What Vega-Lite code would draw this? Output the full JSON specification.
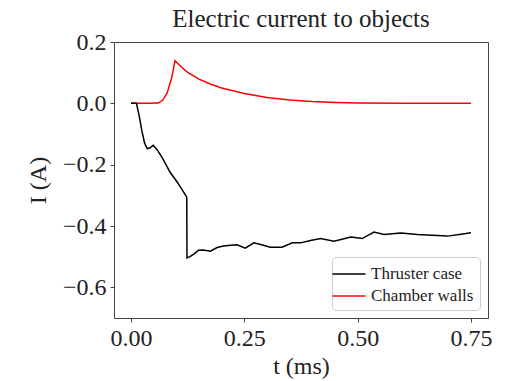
{
  "$schema": "https://vega.github.io/schema/vega-lite/v6.json",
  "autosize": {"type": "none"},
  "padding": {"left": 114, "top": 42, "right": 19, "bottom": 63},
  "width": 374,
  "height": 276,
  "background": "white",
  "title": {"text": "Electric current to objects", "font": "Liberation Serif, serif", "fontSize": 25, "fontWeight": "normal", "color": "#222", "offset": -2},
  "config": {
    "view": {"stroke": "#444", "strokeWidth": 1},
    "axis": {"labelFont": "Liberation Serif, serif", "titleFont": "Liberation Serif, serif", "labelFontSize": 24, "titleFontSize": 24, "titleFontWeight": "normal", "labelColor": "#222", "titleColor": "#222", "domain": false, "tickColor": "#444", "tickSize": 4, "grid": false, "labelPadding": 4},
    "legend": {"labelFont": "Liberation Serif, serif", "labelFontSize": 17, "labelColor": "#222"}
  },
  "data": {"values": [
    {"t": 0.0, "I": 0, "s": "Chamber walls"},
    {"t": 0.02, "I": 0, "s": "Chamber walls"},
    {"t": 0.04, "I": 0, "s": "Chamber walls"},
    {"t": 0.06, "I": 0.001, "s": "Chamber walls"},
    {"t": 0.07, "I": 0.01, "s": "Chamber walls"},
    {"t": 0.08, "I": 0.035, "s": "Chamber walls"},
    {"t": 0.09, "I": 0.085, "s": "Chamber walls"},
    {"t": 0.097, "I": 0.139, "s": "Chamber walls"},
    {"t": 0.11, "I": 0.12, "s": "Chamber walls"},
    {"t": 0.125, "I": 0.101, "s": "Chamber walls"},
    {"t": 0.15, "I": 0.079, "s": "Chamber walls"},
    {"t": 0.175, "I": 0.063, "s": "Chamber walls"},
    {"t": 0.2, "I": 0.05, "s": "Chamber walls"},
    {"t": 0.25, "I": 0.032, "s": "Chamber walls"},
    {"t": 0.3, "I": 0.019, "s": "Chamber walls"},
    {"t": 0.35, "I": 0.011, "s": "Chamber walls"},
    {"t": 0.4, "I": 0.006, "s": "Chamber walls"},
    {"t": 0.45, "I": 0.003, "s": "Chamber walls"},
    {"t": 0.5, "I": 0.001, "s": "Chamber walls"},
    {"t": 0.6, "I": 0.0, "s": "Chamber walls"},
    {"t": 0.75, "I": 0.0, "s": "Chamber walls"},
    {"t": 0.0, "I": 0, "s": "Thruster case"},
    {"t": 0.012, "I": 0, "s": "Thruster case"},
    {"t": 0.018, "I": -0.04, "s": "Thruster case"},
    {"t": 0.024, "I": -0.09, "s": "Thruster case"},
    {"t": 0.03, "I": -0.13, "s": "Thruster case"},
    {"t": 0.036, "I": -0.148, "s": "Thruster case"},
    {"t": 0.042, "I": -0.145, "s": "Thruster case"},
    {"t": 0.049, "I": -0.137, "s": "Thruster case"},
    {"t": 0.058, "I": -0.152, "s": "Thruster case"},
    {"t": 0.07, "I": -0.18, "s": "Thruster case"},
    {"t": 0.086, "I": -0.224, "s": "Thruster case"},
    {"t": 0.101, "I": -0.255, "s": "Thruster case"},
    {"t": 0.112, "I": -0.28, "s": "Thruster case"},
    {"t": 0.123, "I": -0.306, "s": "Thruster case"},
    {"t": 0.1235, "I": -0.504, "s": "Thruster case"},
    {"t": 0.13, "I": -0.5, "s": "Thruster case"},
    {"t": 0.14, "I": -0.49, "s": "Thruster case"},
    {"t": 0.149, "I": -0.479, "s": "Thruster case"},
    {"t": 0.16, "I": -0.478, "s": "Thruster case"},
    {"t": 0.175, "I": -0.482, "s": "Thruster case"},
    {"t": 0.19, "I": -0.47, "s": "Thruster case"},
    {"t": 0.204, "I": -0.465, "s": "Thruster case"},
    {"t": 0.22, "I": -0.463, "s": "Thruster case"},
    {"t": 0.234, "I": -0.461, "s": "Thruster case"},
    {"t": 0.252, "I": -0.472, "s": "Thruster case"},
    {"t": 0.271, "I": -0.455, "s": "Thruster case"},
    {"t": 0.29, "I": -0.462, "s": "Thruster case"},
    {"t": 0.307, "I": -0.469, "s": "Thruster case"},
    {"t": 0.333, "I": -0.469, "s": "Thruster case"},
    {"t": 0.356, "I": -0.455, "s": "Thruster case"},
    {"t": 0.374, "I": -0.455, "s": "Thruster case"},
    {"t": 0.396, "I": -0.447, "s": "Thruster case"},
    {"t": 0.418, "I": -0.441, "s": "Thruster case"},
    {"t": 0.448, "I": -0.45, "s": "Thruster case"},
    {"t": 0.485, "I": -0.436, "s": "Thruster case"},
    {"t": 0.51, "I": -0.441, "s": "Thruster case"},
    {"t": 0.536, "I": -0.42, "s": "Thruster case"},
    {"t": 0.558, "I": -0.428, "s": "Thruster case"},
    {"t": 0.595, "I": -0.423, "s": "Thruster case"},
    {"t": 0.632, "I": -0.428, "s": "Thruster case"},
    {"t": 0.665, "I": -0.43, "s": "Thruster case"},
    {"t": 0.698, "I": -0.433, "s": "Thruster case"},
    {"t": 0.728, "I": -0.427, "s": "Thruster case"},
    {"t": 0.75, "I": -0.422, "s": "Thruster case"}
  ]},
  "mark": {"type": "line", "strokeWidth": 1.5, "interpolate": "linear"},
  "encoding": {
    "x": {"field": "t", "type": "quantitative", "scale": {"domain": [-0.0375, 0.7875], "nice": false, "zero": false},
      "axis": {"title": "t (ms)", "values": [0, 0.25, 0.5, 0.75], "format": ".2f", "titlePadding": 4}},
    "y": {"field": "I", "type": "quantitative", "scale": {"domain": [-0.7, 0.2], "nice": false, "zero": false},
      "axis": {"title": "I (A)", "values": [0.2, 0, -0.2, -0.4, -0.6], "format": ".1f", "titlePadding": 12}},
    "color": {"field": "s", "type": "nominal", "scale": {"domain": ["Thruster case", "Chamber walls"], "range": ["#000000", "#ff0000"]},
      "legend": {"title": null, "orient": "bottom-right", "offset": 8, "symbolType": "M-1.65,0H1.65", "symbolSize": 400, "symbolStrokeWidth": 1.5, "strokeColor": "#ccc", "fillColor": "white", "padding": 6, "cornerRadius": 4, "rowPadding": 3, "labelOffset": 11}},
    "order": {"field": "t", "type": "quantitative"}
  }
}
